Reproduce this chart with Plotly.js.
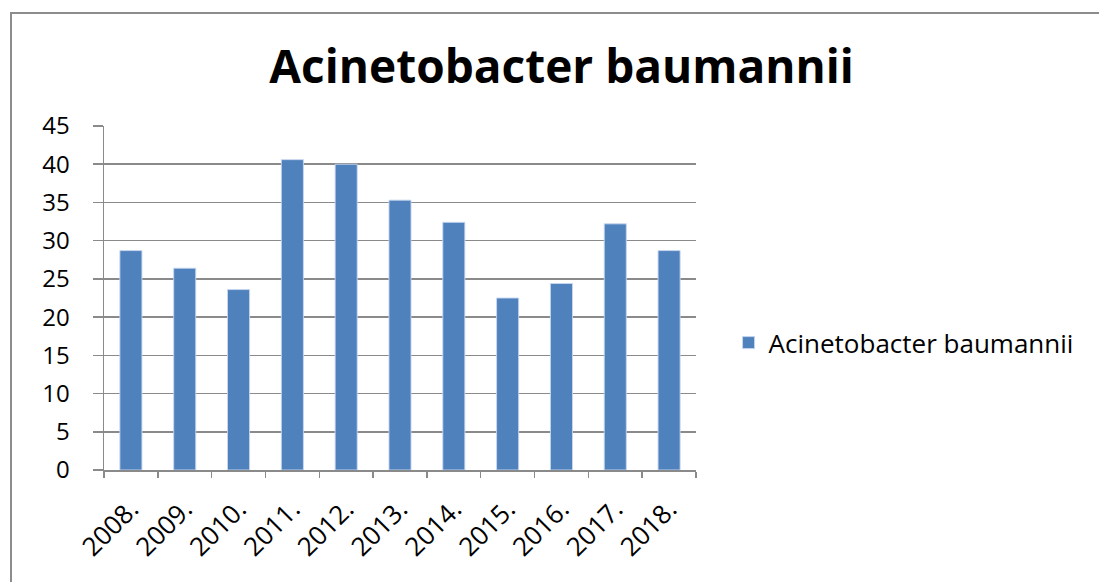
<!DOCTYPE html>
<html>
<head>
<meta charset="utf-8">
<script src="https://cdn.plot.ly/plotly-3.0.1.min.js"></script>
<style>
  html, body { margin: 0; padding: 0; background: #fff; }
  #chart { position: absolute; left: 0; top: 0; width: 1099px; height: 582px; }
  #frame {
    position: absolute; left: 10px; top: 12px; right: 0; bottom: 0;
    border-left: 2.5px solid #8c8c8c; border-top: 2.5px solid #8c8c8c;
    pointer-events: none;
  }
</style>
</head>
<body>
<div id="chart"></div>
<div id="frame"></div>
<script>
// Acinetobacter baumannii by year
const years  = ['2008.', '2009.', '2010.', '2011.', '2012.', '2013.', '2014.', '2015.', '2016.', '2017.', '2018.'];
const values = [28.7, 26.4, 23.6, 40.6, 40.0, 35.3, 32.4, 22.5, 24.4, 32.2, 28.7];
const seriesName = 'Acinetobacter baumannii';
const yTicks = [0, 5, 10, 15, 20, 25, 30, 35, 40, 45];

const font = '"Open Sans", "Noto Sans", sans-serif';
const gridCol = '#8a8a8a';

const bars = {
  x: years,
  y: values,
  type: 'bar',
  name: seriesName,
  marker: {
    color: '#4f81bd',
    line: {color: 'rgba(200,215,240,0.9)', width: 1}
  },
  hoverinfo: 'x+y'
};

const layout = {
  width: 1099,
  height: 582,
  paper_bgcolor: 'rgba(0,0,0,0)',
  plot_bgcolor: '#fff',
  margin: {l: 104, r: 403, t: 126, b: 112},
  bargap: 0.59,
  title: {
    text: '<b>' + seriesName + '</b>',
    font: {family: font, size: 46, color: '#000'},
    x: 0.511, xanchor: 'center',
    y: 0.885, yanchor: 'middle'
  },
  xaxis: {
    type: 'category',
    tickson: 'boundaries',
    ticks: 'outside',
    ticklen: 6,
    tickcolor: gridCol,
    tickwidth: 1.5,
    tickangle: -45,
    showline: true,
    linecolor: gridCol,
    linewidth: 1.5,
    showgrid: false,
    ticklabelstandoff: 12,
    tickfont: {family: font, size: 26, color: '#000'}
  },
  yaxis: {
    range: [0, 45],
    tickvals: yTicks,
    ticks: 'outside',
    ticklen: 10,
    tickcolor: gridCol,
    tickwidth: 1.5,
    showline: true,
    linecolor: gridCol,
    linewidth: 1.5,
    showgrid: true,
    gridcolor: gridCol,
    gridwidth: 1.5,
    zeroline: false,
    ticklabelstandoff: 18,
    tickfont: {family: font, size: 24, color: '#000'}
  },
  showlegend: true,
  legend: {
    x: 1.055, xanchor: 'left',
    y: 0.37, yanchor: 'middle',
    font: {family: font, size: 26, color: '#000'},
    itemwidth: 30,
    bgcolor: 'rgba(0,0,0,0)'
  }
};

Plotly.newPlot('chart', [bars], layout, {displayModeBar: false, staticPlot: true});
</script>
</body>
</html>
